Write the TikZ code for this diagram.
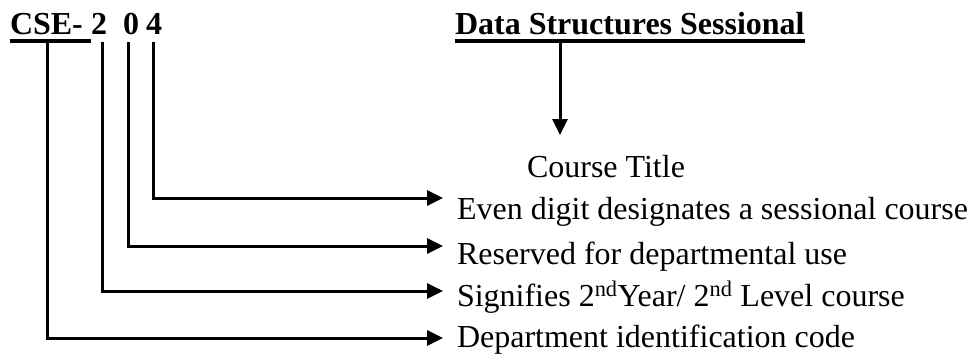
\documentclass[tikz,border=0pt]{standalone}
\usepackage{fontspec}
\setmainfont{Liberation Serif}
\usetikzlibrary{arrows.meta}
\begin{document}
\begin{tikzpicture}[x=1pt,y=-1pt,
  txt/.style={inner sep=0pt,outer sep=0pt,anchor=base west,font=\fontsize{32}{38}\selectfont},
  hdr/.style={txt,font=\fontsize{32}{38}\selectfont\bfseries},
  conn/.style={line width=3pt,line cap=butt,line join=miter},
  arr/.style={conn,-{Triangle[length=16pt,width=15pt]}},
  ul/.style={line width=3.2pt}]
\useasboundingbox (0,0) rectangle (973,353);
% header
\node[hdr] (cse) at (10,35) {CSE-};
\node[hdr] (d2) at (91,35) {2};
\node[hdr] (d0) at (123,35) {0};
\node[hdr] (d4) at (146,35) {4};
\node[hdr] (title) at (455,35) {Data Structures Sessional};
\draw[ul] ([yshift=-6pt]cse.base west) -- ([xshift=8pt,yshift=-6pt]cse.base east);
\draw[ul] ([yshift=-6pt]title.base west) -- ([yshift=-6pt]title.base east);
% labels
\node[txt] (course) at (527,177) {Course Title};
\node[txt] (even) at (457,219) {Even digit designates a sessional course};
\node[txt] (res) at (457,264) {Reserved for departmental use};
\node[txt] (sig) at (457,306) {Signifies 2\textsuperscript{nd}Year/ 2\textsuperscript{nd} Level course};
\node[txt] (dep) at (457,347) {Department identification code};
% connectors
\draw[arr] ([xshift=105pt,yshift=-7pt]title.base west) -- ([xshift=33pt,yshift=42pt]course.base west);
\draw[arr] ([xshift=7pt,yshift=-7pt]d4.base west) |- ([xshift=-14pt,yshift=21pt]even.base west);
\draw[arr] ([xshift=5pt,yshift=-7pt]d0.base west) |- ([xshift=-14pt,yshift=18pt]res.base west);
\draw[arr] ([xshift=11pt,yshift=-7pt]d2.base west) |- ([xshift=-14pt,yshift=15pt]sig.base west);
\draw[arr] ([xshift=37pt,yshift=-7pt]cse.base west) |- ([xshift=-14pt,yshift=9pt]dep.base west);
\end{tikzpicture}
\end{document}
